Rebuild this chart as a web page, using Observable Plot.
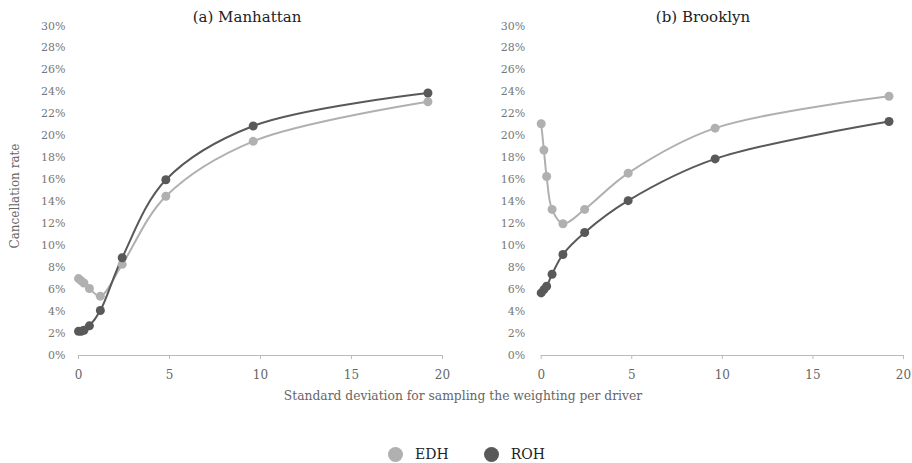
<!DOCTYPE html>
<html>
<head>
<meta charset="utf-8">
<script src="https://cdn.jsdelivr.net/npm/d3@7"></script>
<script src="https://cdn.jsdelivr.net/npm/@observablehq/plot@0.6"></script>
<style>
  html, body { margin: 0; padding: 0; background: #fff; }
  #wrap { position: relative; width: 912px; height: 463px; font-family: "DejaVu Serif", serif; }
  .panel { position: absolute; top: 0; }
  .title { position: absolute; top: 8px; font-size: 15px; color: #222; white-space: nowrap; transform: translateX(-50%); z-index: 2; }
  #xlabel { position: absolute; top: 389px; left: 463px; transform: translateX(-50%); font-size: 12.3px; color: #666; white-space: nowrap; }
  #ylabel { position: absolute; left: 15px; top: 196px; transform: translate(-50%, -50%) rotate(-90deg); font-size: 12px; color: #666; white-space: nowrap; }
  #legend { position: absolute; top: 446px; left: 388px; display: flex; align-items: center; font-size: 14px; color: #222; }
  .sw { display: inline-block; width: 15px; height: 15px; border-radius: 50%; margin-right: 12px; }
  .item { display: flex; align-items: center; margin-right: 35px; }
</style>
</head>
<body>
<div id="wrap">
  <div id="left" class="panel" style="left:0"></div>
  <div id="right" class="panel" style="left:456px"></div>
  <div class="title" style="left:247px">(a) Manhattan</div>
  <div class="title" style="left:703px">(b) Brooklyn</div>
  <div id="ylabel">Cancellation rate</div>
  <div id="xlabel">Standard deviation for sampling the weighting per driver</div>
  <div id="legend"></div>
</div>
<script>
const sd = [0, 0.15, 0.3, 0.6, 1.2, 2.4, 4.8, 9.6, 19.2];
const manhattanEDH = [7.0, 6.8, 6.6, 6.1, 5.4, 8.3, 14.5, 19.5, 23.1];
const manhattanROH = [2.2, 2.2, 2.3, 2.7, 4.1, 8.9, 16.0, 20.9, 23.9];
const brooklynEDH = [21.1, 18.7, 16.3, 13.3, 12.0, 13.3, 16.6, 20.7, 23.6];
const brooklynROH = [5.7, 6.0, 6.3, 7.4, 9.2, 11.2, 14.1, 17.9, 21.3];
const seriesNames = ["EDH", "ROH"];
const seriesColors = ["#b0b0b0", "#595959"];
const yTicks = d3.range(0, 31, 2);
const xTicks = [0, 5, 10, 15, 20];

function rows(edh, roh) {
  const out = [];
  sd.forEach((x, i) => out.push({x, y: edh[i], s: "EDH"}));
  sd.forEach((x, i) => out.push({x, y: roh[i], s: "ROH"}));
  return out;
}

function panel(data, marginLeft, marginRight, tickPad) {
  return Plot.plot({
    width: 456,
    height: 388,
    marginTop: 25.5,
    marginBottom: 33,
    marginLeft,
    marginRight,
    style: {fontFamily: "DejaVu Serif, serif", fontSize: "11px", color: "#777", background: "transparent"},
    x: {domain: [0, 20]},
    y: {domain: [0, 30]},
    color: {domain: seriesNames, range: seriesColors},
    marks: [
      Plot.axisY({ticks: yTicks, tickSize: 0, tickPadding: tickPad, tickFormat: d => d + "%", label: null, fill: "#777"}),
      Plot.axisX({ticks: xTicks, tickSize: 4, tickPadding: 11, label: null, stroke: "#bbb", fill: "#666", fontSize: 12}),
      Plot.ruleY([0], {stroke: "#bbb"}),
      Plot.line(data, {x: "x", y: "y", z: "s", stroke: "s", strokeWidth: 2, curve: "catmull-rom"}),
      Plot.dot(data, {x: "x", y: "y", fill: "s", r: 4.5})
    ]
  });
}

document.getElementById("left").appendChild(panel(rows(manhattanEDH, manhattanROH), 78, 14, 13));
document.getElementById("right").appendChild(panel(rows(brooklynEDH, brooklynROH), 84.7, 9, 16));

const legend = document.getElementById("legend");
seriesNames.forEach((n, i) => {
  const it = document.createElement("div");
  it.className = "item";
  it.innerHTML = `<span class="sw" style="background:${seriesColors[i]}"></span><span>${n}</span>`;
  legend.appendChild(it);
});
</script>
</body>
</html>
